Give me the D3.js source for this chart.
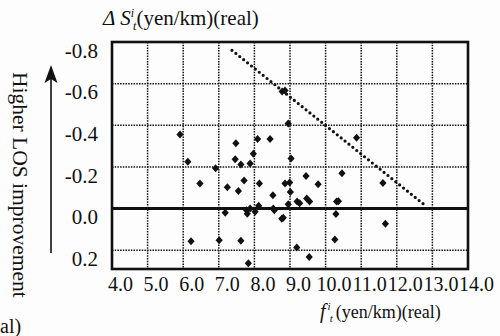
<!DOCTYPE html>
<html>
<head>
<meta charset="utf-8">
<script src="https://cdn.jsdelivr.net/npm/d3@7"></script>
<style>
  html, body { margin: 0; padding: 0; background: #fdfdfd; }
  svg { display: block; font-family: "Liberation Serif", "DejaVu Serif", serif; }
  .tick text { fill: #111; }
</style>
</head>
<body>
<svg id="chart" width="500" height="336"></svg>
<script>
// ── data ────────────────────────────────────────────────────────────────────
const fareX = [
  5.91, 6.13, 6.47, 6.22, 6.91, 7.01, 7.18, 7.24, 7.46, 7.48,
  7.55, 7.62, 7.62, 7.71, 7.78, 7.80, 7.83, 7.88, 7.88, 7.97,
  8.02, 8.09, 8.14, 8.12, 8.44, 8.52, 8.53, 8.56, 8.77, 8.81,
  8.78, 8.86, 8.95, 8.86, 8.99, 9.01, 8.95, 9.03, 9.19, 9.20,
  9.27, 9.45, 9.47, 9.55, 9.54, 9.79, 10.31, 10.36, 10.29, 10.26,
  10.46, 10.87, 11.61, 11.68
];
const deltaS = [
  -0.356, -0.225, -0.120, 0.157, -0.194, 0.152, 0.020, -0.103, -0.237, -0.314,
  -0.084, -0.212, 0.154, -0.135, 0.008, 0.025, 0.262, -0.216, 0.000, -0.264,
  0.015, -0.334, -0.121, -0.014, -0.334, -0.064, 0.000, 0.008, 0.049, 0.044,
  -0.562, -0.567, -0.409, -0.120, -0.125, -0.080, -0.021, -0.241, 0.187, -0.034,
  -0.026, -0.156, -0.049, -0.034, 0.232, -0.117, -0.034, -0.035, 0.026, 0.148,
  -0.170, -0.340, -0.123, 0.073
];
const boundX = [7.37, 12.80];
const boundY = [-0.76, -0.015];

const xTicks = [4, 5, 6, 7, 8, 9, 10, 11, 12, 13, 14];
const yTicks = [-0.8, -0.6, -0.4, -0.2, 0.0, 0.2];

// ── layout ─────────────────────────────────────────────────────────────────
const svg = d3.select('#chart');
const plotL = 112, plotR = 468, plotT = 42, plotB = 269;

const x = d3.scaleLinear().domain([4, 14]).range([plotL, plotR]);
const y = d3.scaleLinear().domain([-0.8, 0.29]).range([plotT, plotB]);
const fmt = d => d.toFixed(1);

// dotted grid
const grid = svg.append('g')
  .attr('stroke', '#111')
  .attr('stroke-width', 1.5)
  .attr('stroke-dasharray', '1.5,1.2');

grid.selectAll('line.v')
  .data(xTicks.filter(d => d > 4 && d < 14))
  .join('line')
  .attr('class', 'v')
  .attr('x1', d => x(d)).attr('x2', d => x(d))
  .attr('y1', plotT).attr('y2', plotB);

grid.selectAll('line.h')
  .data(yTicks.filter(d => d !== -0.8 && d !== 0))
  .join('line')
  .attr('class', 'h')
  .attr('x1', plotL).attr('x2', plotR)
  .attr('y1', d => y(d)).attr('y2', d => y(d));

// zero line
svg.append('line')
  .attr('x1', plotL).attr('x2', plotR)
  .attr('y1', y(0)).attr('y2', y(0))
  .attr('stroke', '#111')
  .attr('stroke-width', 3);

// boundary (dotted diagonal)
svg.append('path')
  .datum(d3.zip(boundX, boundY))
  .attr('d', d3.line().x(d => x(d[0])).y(d => y(d[1])))
  .attr('fill', 'none')
  .attr('stroke', '#111')
  .attr('stroke-width', 3.2)
  .attr('stroke-linecap', 'round')
  .attr('stroke-dasharray', '0,5');

// points
svg.append('g')
  .selectAll('path')
  .data(d3.zip(fareX, deltaS))
  .join('path')
  .attr('transform', d => `translate(${x(d[0])},${y(d[1])})`)
  .attr('d', 'M0,-4L3.6,0L0,4L-3.6,0Z')
  .attr('fill', '#111');

// frame
svg.append('rect')
  .attr('x', plotL).attr('y', plotT)
  .attr('width', plotR - plotL).attr('height', plotB - plotT)
  .attr('fill', 'none')
  .attr('stroke', '#111')
  .attr('stroke-width', 2.6);

// axes (labels only)
const yAxis = svg.append('g')
  .attr('transform', `translate(${plotL},0)`)
  .call(d3.axisLeft(y).tickValues(yTicks).tickSize(0).tickPadding(14).tickFormat(fmt));
yAxis.select('.domain').remove();
yAxis.selectAll('text')
  .attr('font-size', 21)
  .attr('dy', '0.72em')
  .attr('font-family', '"Liberation Serif", serif');

const xAxis = svg.append('g')
  .attr('transform', `translate(0,${plotB})`)
  .call(d3.axisBottom(x).tickValues(xTicks).tickSize(0).tickPadding(8).tickFormat(fmt));
xAxis.select('.domain').remove();
xAxis.selectAll('text')
  .attr('font-size', 20)
  .attr('x', 8)
  .attr('font-family', '"Liberation Serif", serif');

// titles
const yTitle = svg.append('text')
  .attr('x', 103).attr('y', 25)
  .attr('font-size', 21)
  .attr('fill', '#111');
yTitle.append('tspan').attr('font-style', 'italic').text('Δ S');
yTitle.append('tspan').attr('font-style', 'italic').attr('font-size', 12).attr('dy', -8).text('i');
yTitle.append('tspan').attr('font-style', 'italic').attr('font-size', 12).attr('dx', -1).attr('dy', 13).text('t');
yTitle.append('tspan').attr('dy', -5).text('(yen/km)(real)');

const xTitle = svg.append('text')
  .attr('x', 320).attr('y', 318)
  .attr('font-size', 18)
  .attr('fill', '#111');
xTitle.append('tspan').attr('font-style', 'italic').attr('font-size', 20).text('f');
xTitle.append('tspan').attr('font-style', 'italic').attr('font-size', 11).attr('dx', 2).attr('dy', -8).text('i');
xTitle.append('tspan').attr('font-style', 'italic').attr('font-size', 11).attr('dx', -1).attr('dy', 12).text('t');
xTitle.append('tspan').attr('dx', 3).attr('dy', -4).text('(yen/km)(real)');

svg.append('text')
  .attr('transform', 'translate(13,72) rotate(90)')
  .attr('font-size', 21.5)
  .attr('fill', '#111')
  .text('Higher LOS improvement');

// arrow
svg.append('line')
  .attr('x1', 51).attr('x2', 51)
  .attr('y1', 253).attr('y2', 78)
  .attr('stroke', '#111')
  .attr('stroke-width', 1.6);
svg.append('path')
  .attr('d', 'M51,65L57.5,83L51,79L44.5,83Z')
  .attr('fill', '#111');

// fragment of a neighbouring figure's label
svg.append('text')
  .attr('x', 0).attr('y', 333)
  .attr('font-size', 20)
  .attr('fill', '#111')
  .text('al)');
</script>
</body>
</html>
